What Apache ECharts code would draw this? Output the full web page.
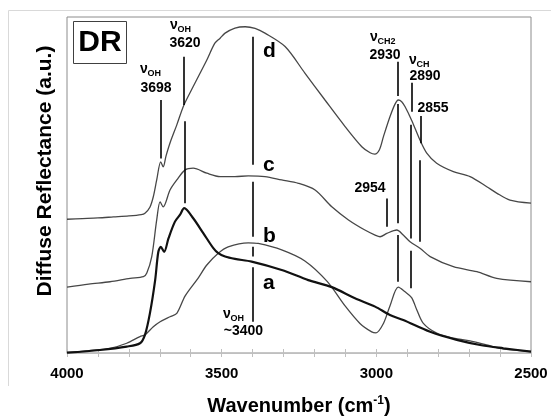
<!DOCTYPE html>
<html>
<head>
<meta charset="utf-8">
<title>DR spectra</title>
<script src="https://cdn.jsdelivr.net/npm/echarts@6/dist/echarts.min.js"></script>
<style>
  html, body { margin: 0; padding: 0; background: #fff; }
  #main { width: 551px; height: 416px; }
</style>
</head>
<body>
<div id="main"></div>
<script type="text/javascript">
// wavenumber (cm-1) / reflectance (a.u., 0-100)
var dWave = [4000,3950,3900,3850,3800,3760,3748,3732,3721,3710,3697,3689,3680,3667,3645,3622,3592,3548,3522,3505,3489,3457,3424,3392,3360,3295,3231,3166,3101,3047,3020,3005,2990,2977,2956,2940,2929,2918,2907,2886,2859,2837,2805,2751,2697,2643,2611,2568,2500];
var dVal  = [39.8,40.0,40.2,40.5,40.8,41.2,41.6,43.4,46.5,51.5,56.9,55.4,58.6,62.5,67.9,73.8,79.3,87.2,92.2,93.7,95.2,96.7,97.1,96.6,95.2,91.2,83.3,75.3,67.4,61.4,59.6,59.2,60.5,64.4,70.3,74.0,75.3,74.8,73.3,69.3,63.4,59.5,56.5,54.0,52.5,49.5,47.6,45.5,44.6];

var cWave = [4000,3930,3861,3796,3753,3742,3726,3710,3699,3689,3667,3645,3618,3592,3548,3505,3457,3414,3360,3306,3252,3198,3144,3090,3037,3004,2988,2966,2934,2913,2891,2859,2826,2751,2675,2611,2500];
var cVal  = [19.6,20.5,21.2,22.2,22.7,23.8,28.7,39.6,45.0,43.5,48.5,51.5,54.5,55.0,53.5,52.5,52.5,52.7,52.5,51.5,50.5,48.5,43.5,39.6,36.6,35.1,34.6,35.6,36.6,35.1,33.1,31.2,28.7,25.7,24.2,22.2,21.2];

var bWave = [4000,3930,3861,3807,3764,3748,3721,3699,3667,3645,3618,3576,3548,3511,3479,3414,3382,3306,3231,3159,3101,3053,3015,3001,2977,2956,2929,2907,2886,2869,2848,2805,2751,2697,2643,2589,2500];
var bVal  = [0.1,0.7,1.4,2.9,4.9,5.4,7.8,9.3,10.8,11.8,17.0,22.3,26.2,29.7,31.6,32.8,32.6,30.7,27.4,21.3,14.0,8.8,6.3,6.0,8.8,14.0,19.6,18.2,16.5,12.8,8.8,5.9,4.4,3.6,2.4,1.2,0.4];

var aWave = [4000,3893,3807,3764,3748,3732,3715,3705,3697,3686,3672,3651,3635,3621,3592,3559,3527,3511,3489,3457,3403,3306,3220,3144,3069,3004,2956,2913,2826,2740,2660,2589,2500];
var aVal  = [0.1,0.9,1.9,2.9,5.4,11.8,21.7,30.0,31.6,30.1,34.1,39.1,41.1,43.1,40.1,35.6,31.2,29.7,28.7,28.0,27.2,24.7,21.7,19.6,16.3,13.8,11.3,9.8,6.3,3.9,2.3,1.4,0.4];

// band marker segments: [wavenumber, from, to]
var bandSegs = [
  [3697, 57.9, 75.3],
  [3621, 73.8, 88.2], [3619, 44.6, 69.0],
  [3398, 56.0, 94.1], [3398, 34.6, 51.0], [3398, 28.7, 31.6], [3398, 9.3, 25.5],
  [2930, 76.5, 86.7], [2930, 38.6, 74.1], [2931, 21.2, 35.1],
  [2887, 71.8, 80.4], [2890, 34.1, 67.9], [2890, 19.3, 30.4],
  [2855, 62.4, 70.5], [2859, 33.1, 57.4],
  [2966, 37.6, 46.0]
];

var tickLabels = [4000, 3500, 3000, 2500];

function zip(w, v) {
  var out = [];
  for (var i = 0; i < w.length; i++) out.push([w[i], v[i]]);
  return out;
}

var FONT = "'Liberation Sans', Arial, sans-serif";

function txt(x, y, s, size, align) {
  return { type: 'text', x: x, y: y, silent: true,
    style: { text: s, fill: '#000', font: 'bold ' + size + 'px ' + FONT,
      textAlign: align || 'center', textVerticalAlign: 'middle' } };
}
// ν with subscript, then the number below it
function nuLabel(x, base, sub, numX, numY, num) {
  return [
    { type: 'text', x: x, y: base, silent: true,
      style: { text: 'ν', fill: '#000', font: 'bold 14px ' + FONT, textAlign: 'left', textVerticalAlign: 'bottom' } },
    { type: 'text', x: x + 7.5, y: base + 2, silent: true,
      style: { text: sub, fill: '#000', font: 'bold 9px ' + FONT, textAlign: 'left', textVerticalAlign: 'bottom' } },
    txt(numX, numY, num, 14)
  ];
}

var graphics = [
  { type: 'line', silent: true, shape: { x1: 8.5, y1: 10.5, x2: 551, y2: 10.5 }, style: { stroke: '#d9d9d9', lineWidth: 1 } },
  { type: 'line', silent: true, shape: { x1: 8.5, y1: 10.5, x2: 8.5, y2: 386 }, style: { stroke: '#d9d9d9', lineWidth: 1 } },
  { type: 'rect', silent: true, shape: { x: 73.5, y: 21.5, width: 53, height: 42 }, style: { fill: '#fff', stroke: '#404040', lineWidth: 1 } },
  txt(100, 43, 'DR', 30),
  txt(263, 51, 'd', 21, 'left'),
  txt(263, 165, 'c', 21, 'left'),
  txt(263, 236, 'b', 21, 'left'),
  txt(263, 283, 'a', 21, 'left'),
  txt(370, 188, '2954', 14),
  txt(433, 108, '2855', 14),
  { type: 'text', x: 45, y: 171, rotation: Math.PI / 2, silent: true,
    style: { text: 'Diffuse Reflectance (a.u.)', fill: '#000', font: 'bold 21px ' + FONT, textAlign: 'center', textVerticalAlign: 'middle' } }
];
graphics = graphics
  .concat(nuLabel(140, 76, 'OH', 156, 88, '3698'))
  .concat(nuLabel(170, 32.5, 'OH', 185, 43, '3620'))
  .concat(nuLabel(223, 321, 'OH', 243.5, 331.5, '~3400'))
  .concat(nuLabel(370, 44, 'CH2', 385, 55, '2930'))
  .concat(nuLabel(409, 67.5, 'CH', 425, 76.5, '2890'));

var myChart = echarts.init(document.getElementById('main'));

var lineGray = { color: '#474747', width: 1.3 };

option = {
  animation: false,
  textStyle: { fontFamily: FONT },
  grid: { left: 67, right: 20, top: 17, bottom: 63, show: true, borderColor: '#8c8c8c', borderWidth: 1,
          containLabel: false, outerBoundsMode: 'none' },
  xAxis: [
    {
      type: 'value', min: 2500, max: 4000, interval: 100, inverse: true,
      name: '{m|Wavenumber (cm}{s|-1}{m|)}', nameLocation: 'middle', nameGap: 42,
      nameTextStyle: {
        rich: {
          m: { fontSize: 20, fontWeight: 'bold', color: '#000', fontFamily: FONT, lineHeight: 22 },
          s: { fontSize: 12, fontWeight: 'bold', color: '#000', fontFamily: FONT, verticalAlign: 'top', lineHeight: 22, padding: [0, 0, 8, 0] }
        }
      },
      axisLine: { lineStyle: { color: '#bfbfbf', width: 1 } },
      axisTick: { length: 4, lineStyle: { color: '#bfbfbf' } },
      splitLine: { show: false },
      axisLabel: {
        margin: 13, fontSize: 15, fontWeight: 'bold', color: '#000', fontFamily: FONT,
        formatter: function (v) { return tickLabels.indexOf(v) >= 0 ? String(v) : ''; }
      }
    },
    {
      type: 'value', min: 2500, max: 4000, interval: 100, inverse: true, position: 'bottom',
      axisLine: { show: false },
      axisTick: { inside: true, length: 4, lineStyle: { color: '#bfbfbf' } },
      axisLabel: { show: false },
      splitLine: { show: false }
    }
  ],
  yAxis: { type: 'value', min: 0, max: 100, show: false },
  series: [
    { name: 'd', type: 'line', data: zip(dWave, dVal), showSymbol: false, smooth: 0.3, lineStyle: lineGray, z: 3 },
    { name: 'c', type: 'line', data: zip(cWave, cVal), showSymbol: false, smooth: 0.3, lineStyle: lineGray, z: 3 },
    { name: 'b', type: 'line', data: zip(bWave, bVal), showSymbol: false, smooth: 0.3, lineStyle: lineGray, z: 3 },
    {
      name: 'a', type: 'line', data: zip(aWave, aVal), showSymbol: false, smooth: 0.3,
      lineStyle: { color: '#111', width: 2.2 }, z: 4,
      markLine: {
        silent: true, symbol: ['none', 'none'], label: { show: false },
        lineStyle: { color: '#000', width: 1.6, type: 'solid' },
        emphasis: { disabled: true },
        data: bandSegs.map(function (s) { return [{ coord: [s[0], s[1]] }, { coord: [s[0], s[2]] }]; })
      }
    }
  ],
  graphic: graphics
};

myChart.setOption(option);
</script>
</body>
</html>
